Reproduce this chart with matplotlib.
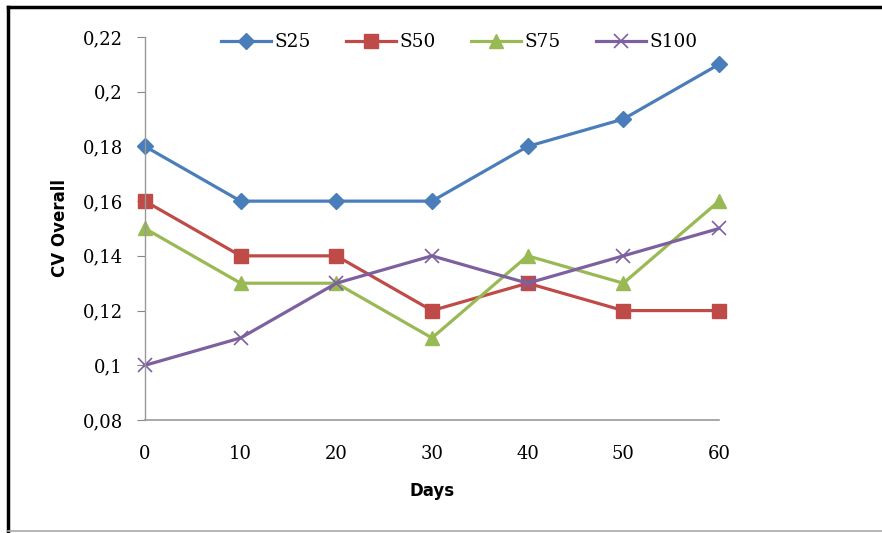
import matplotlib
matplotlib.use("Agg")
import matplotlib.pyplot as plt
from matplotlib.lines import Line2D

days = [0, 10, 20, 30, 40, 50, 60]
s25 = [0.18, 0.16, 0.16, 0.16, 0.18, 0.19, 0.21]
s50 = [0.16, 0.14, 0.14, 0.12, 0.13, 0.12, 0.12]
s75 = [0.15, 0.13, 0.13, 0.11, 0.14, 0.13, 0.16]
s100 = [0.10, 0.11, 0.13, 0.14, 0.13, 0.14, 0.15]
ytick_vals = [0.08, 0.10, 0.12, 0.14, 0.16, 0.18, 0.20, 0.22]
ytick_labels = ["0,08", "0,1", "0,12", "0,14", "0,16", "0,18", "0,2", "0,22"]

fig = plt.figure(figsize=(8.82, 5.33), dpi=100)
ax = fig.add_axes([0.1644, 0.212, 0.8152 - 0.1644, 0.9306 - 0.212])

series = [
    ("S25", s25, "#4A7EBB", "D", 8),
    ("S50", s50, "#BE4B48", "s", 10),
    ("S75", s75, "#98B954", "^", 10),
    ("S100", s100, "#7D60A0", "x", 10),
]
for name, vals, col, mk, ms in series:
    ax.plot(days, vals, color=col, lw=2.3, marker=mk, markersize=ms,
            markeredgecolor=col, markerfacecolor=col, mew=1.2 if mk == "x" else 1,
            label=name, clip_on=False)

ax.set_xlim(0, 60)
ax.set_ylim(0.08, 0.22)
ax.set_xticks(days)
ax.set_xticklabels([str(d) for d in days], family="DejaVu Serif", fontsize=13)
ax.set_yticks(ytick_vals)
ax.set_yticklabels(ytick_labels, family="DejaVu Serif", fontsize=13)
ax.tick_params(axis="x", length=0, pad=18)
ax.tick_params(axis="y", length=6, direction="out", color="#888888", pad=10)
for s in ["top", "right"]:
    ax.spines[s].set_visible(False)
for s in ["left", "bottom"]:
    ax.spines[s].set_color("#999999")
    ax.spines[s].set_linewidth(1.2)
ax.spines["left"].set_linewidth(1)

ax.set_xlabel("Days", fontsize=12, fontweight="bold", labelpad=14)
ax.set_ylabel("CV Overall", fontsize=12, fontweight="bold", labelpad=10)

leg = fig.legend(*ax.get_legend_handles_labels(), loc="center",
                 bbox_to_anchor=(459 / 882, 1 - 42 / 533), ncol=4, frameon=False,
                 prop={"family": "DejaVu Serif", "size": 13.3}, handlelength=2.7,
                 columnspacing=1.9, handletextpad=0.2, borderpad=0, borderaxespad=0)

# outer frame
fig.add_artist(Line2D([0.009, 0.009], [0.004, 0.987], color="black", lw=2.5, transform=fig.transFigure))
fig.add_artist(Line2D([0.009, 1.0], [0.987, 0.987], color="black", lw=2.5, transform=fig.transFigure))
fig.add_artist(Line2D([0.009, 1.0], [0.004, 0.004], color="#aaaaaa", lw=1.2, transform=fig.transFigure))

fig.savefig("out.png", dpi=100)
